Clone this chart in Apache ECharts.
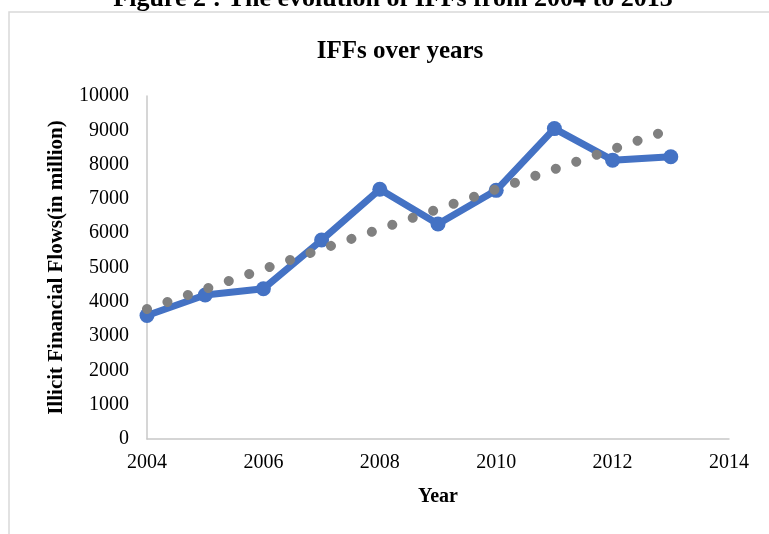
<!DOCTYPE html>
<html>
<head>
<meta charset="utf-8">
<script src="https://cdn.jsdelivr.net/npm/echarts@6/dist/echarts.min.js"></script>
<style>html,body{margin:0;padding:0;background:#fff}#c{width:769px;height:534px}</style>
</head>
<body>
<div id="c"></div>
<script>
// Data
const years = [2004, 2005, 2006, 2007, 2008, 2009, 2010, 2011, 2012, 2013];
const iffs = [3600, 4200, 4380, 5800, 7280, 6270, 7250, 9050, 8130, 8230];
// Linear trendline end points
const trendYears = [2004, 2013];
const trendValues = [3790, 9030];
const xTicks = [2004, 2006, 2008, 2010, 2012, 2014];
const yTicks = [0, 1000, 2000, 3000, 4000, 5000, 6000, 7000, 8000, 9000, 10000];

const font = '"Liberation Serif", "Times New Roman", serif';
const chart = echarts.init(document.getElementById('c'), null, {renderer: 'canvas'});
chart.setOption({
  animation: false,
  backgroundColor: '#ffffff',
  graphic: [
    {type: 'rect', shape: {x: 9, y: 12, width: 800, height: 560},
     style: {fill: 'none', stroke: '#D9D9D9', lineWidth: 1.5}, z: 0},
    {type: 'text', x: 393, y: 12.5, z: 10,
     style: {text: 'Figure 2 : The evolution of IFFs from 2004 to 2013', align: 'center', verticalAlign: 'bottom',
       font: 'bold 26px ' + font, fill: '#000'}}
  ],
  title: {
    text: 'IFFs over years', left: 395, top: 34, textAlign: 'center',
    textStyle: {fontFamily: font, fontWeight: 'bold', fontSize: 25, color: '#000'}
  },
  grid: {left: 147, right: 40, top: 96, bottom: 95},
  xAxis: {
    type: 'value', min: xTicks[0], max: xTicks[xTicks.length - 1], interval: 2,
    name: 'Year', nameLocation: 'middle', nameGap: 48,
    nameTextStyle: {fontFamily: font, fontWeight: 'bold', fontSize: 20, color: '#000'},
    axisLine: {show: true, lineStyle: {color: '#C8C8C8', width: 1.5}},
    axisTick: {show: false}, splitLine: {show: false},
    axisLabel: {fontFamily: font, fontSize: 20, color: '#000', margin: 14, formatter: v => String(v)}
  },
  yAxis: {
    type: 'value', min: yTicks[0], max: yTicks[yTicks.length - 1], interval: 1000,
    name: 'Illicit Financial Flows(in million)', nameLocation: 'middle', nameGap: 80,
    nameTextStyle: {fontFamily: font, fontWeight: 'bold', fontSize: 21, color: '#000'},
    axisLine: {show: true, lineStyle: {color: '#C8C8C8', width: 1.5}},
    axisTick: {show: false}, splitLine: {show: false},
    axisLabel: {fontFamily: font, fontSize: 20, color: '#000', margin: 18, formatter: v => String(v)}
  },
  series: [
    {
      type: 'line', data: years.map((y, i) => [y, iffs[i]]),
      lineStyle: {color: '#4472C4', width: 7},
      itemStyle: {color: '#4472C4'},
      symbol: 'circle', symbolSize: 15, showSymbol: true, z: 2
    },
    {
      type: 'line', data: trendYears.map((y, i) => [y, trendValues[i]]),
      lineStyle: {color: '#808080', width: 10, type: [0.01, 21.6], cap: 'round'},
      symbol: 'none', z: 3
    }
  ]
});
</script>
</body>
</html>
